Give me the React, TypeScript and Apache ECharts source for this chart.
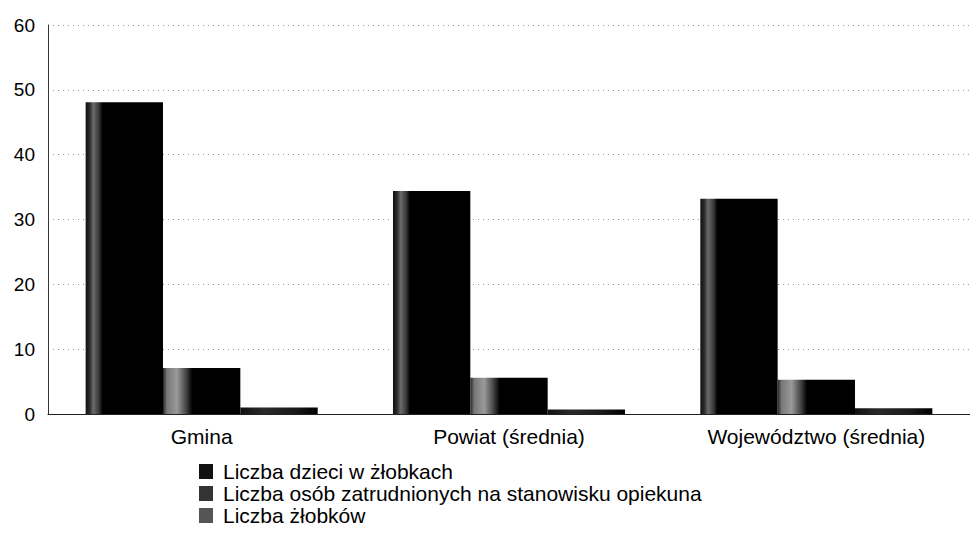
import React, { useEffect, useRef } from "react";
import * as echarts from "echarts";

const categories = ["Gmina", "Powiat (średnia)", "Województwo (średnia)"];
const seriesNames = [
  "Liczba dzieci w żłobkach",
  "Liczba osób zatrudnionych na stanowisku opiekuna",
  "Liczba żłobków",
];
const dzieci = [48.1, 34.4, 33.2];
const opiekunowie = [7.1, 5.6, 5.3];
const zlobki = [1.0, 0.7, 0.9];
const yTicks = { min: 0, max: 60, interval: 10 };

function grad(stops: [number, string][]) {
  return new echarts.graphic.LinearGradient(
    0, 0, 1, 0,
    stops.map(([offset, color]) => ({ offset, color }))
  );
}

export default function App() {
  const ref = useRef<HTMLDivElement>(null);
  useEffect(() => {
    if (!ref.current) return;
    const chart = echarts.init(ref.current, undefined, { renderer: "svg" });
    const font = "Liberation Sans, Arial, sans-serif";
    const colors = [
      grad([[0, "#111"], [0.05, "#2a2a2a"], [0.1, "#6a6a6a"], [0.17, "#3a3a3a"], [0.22, "#000"], [1, "#000"]]),
      grad([[0, "#222"], [0.05, "#777"], [0.18, "#9a9a9a"], [0.3, "#444"], [0.38, "#000"], [1, "#000"]]),
      grad([[0, "#111"], [0.3, "#2a2a2a"], [0.7, "#1a1a1a"], [1, "#000"]]),
    ];
    const legendColors = ["#111", "#333", "#555"];
    const data = [dzieci, opiekunowie, zlobki];
    chart.setOption({
      animation: false,
      backgroundColor: "#fff",
      textStyle: { fontFamily: font },
      grid: { left: 48, right: 0, top: 25, bottom: 128, containLabel: false },
      legend: {
        orient: "vertical",
        left: 199,
        top: 461,
        padding: 0,
        height: 80,
        itemWidth: 14,
        itemHeight: 15,
        itemGap: 1,
        icon: "rect",
        textStyle: { fontSize: 21, lineHeight: 20, color: "#000", fontFamily: font, padding: [0, 0, 0, 5] },
        data: seriesNames.map((name, i) => ({ name, itemStyle: { color: legendColors[i] } })),
      },
      xAxis: {
        type: "category",
        data: categories,
        axisLine: { lineStyle: { color: "#222", width: 1 } },
        axisTick: { show: false },
        axisLabel: { fontSize: 21, color: "#000", margin: 12, fontFamily: font },
      },
      yAxis: {
        type: "value",
        min: yTicks.min,
        max: yTicks.max,
        interval: yTicks.interval,
        axisLine: { show: true, lineStyle: { color: "#333", width: 1 } },
        axisTick: { show: false },
        axisLabel: { fontSize: 19, color: "#000", margin: 13, fontFamily: font },
        splitLine: { lineStyle: { color: "#999", type: [1, 4], width: 1 } },
      },
      series: seriesNames.map((name, i) => ({
        name,
        type: "bar",
        data: data[i],
        barGap: "0%",
        barCategoryGap: "24.5%",
        itemStyle: { color: colors[i] },
      })),
    });
    return () => chart.dispose();
  }, []);
  return <div ref={ref} style={{ width: 970, height: 542, position: "absolute", left: 0, top: 0 }} />;
}
